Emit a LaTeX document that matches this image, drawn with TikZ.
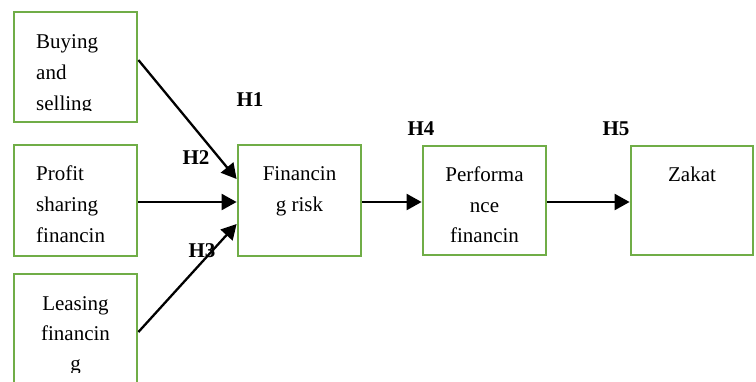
\documentclass[tikz,border=0pt]{standalone}
\usepackage{fontspec}
\setmainfont{Liberation Serif}
\usetikzlibrary{arrows.meta}
\begin{document}
\begin{tikzpicture}[x=1pt,y=-1pt,
  box/.style={draw=boxgreen,line width=2.8pt,minimum width=123pt,inner sep=0pt,fill=white,outer sep=1.4pt},
  txt/.style={inner sep=0pt,font=\fontsize{21}{31}\selectfont},
  hlab/.style={inner sep=0pt,anchor=base,font=\fontsize{21}{31}\selectfont\bfseries},
  arr/.style={line width=2.3pt,-{Triangle[length=15pt,width=16pt]}}]
\definecolor{boxgreen}{HTML}{70AD47}
\useasboundingbox (0,0) rectangle (756,381);
\begin{scope}
\clip (0,0) rectangle (756,381);
\node[box,minimum height=110pt] (b1) at (75.5,67) {};
\node[box,minimum height=111pt] (b2) at (75.5,200.5) {};
\node[box,minimum height=146pt] (b3) at (75.5,347) {};
\node[box,minimum height=111pt] (fr) at (299.5,200.5) {};
\node[box,minimum height=109pt] (pf) at (484.5,200.5) {};
\node[box,minimum width=122pt,minimum height=109pt] (zk) at (692,200.5) {};
\end{scope}
% texts
\begin{scope}
\clip (15,13) rectangle (136,110.5);
\node[txt,anchor=base west] (t1a) at (36,48) {Buying};
\node[txt,anchor=base west] (t1b) at (36,79) {and};
\node[txt,anchor=base west] (t1c) at (36,110) {selling};
\end{scope}
\node[txt,anchor=base west] (t2a) at (36,180) {Profit};
\node[txt,anchor=base west] (t2b) at (36,211) {sharing};
\node[txt,anchor=base west] (t2c) at (36,242) {financin};
\begin{scope}
\clip (15,275) rectangle (136,372.5);
\node[txt,anchor=base] (t3a) at (75.5,310) {Leasing};
\node[txt,anchor=base] (t3b) at (75.5,340) {financin};
\node[txt,anchor=base] (t3c) at (75.5,370) {g};
\end{scope}
\node[txt,anchor=base] (t4a) at (299.5,180) {Financin};
\node[txt,anchor=base] (t4b) at (299.5,211) {g risk};
\node[txt,anchor=base] (t5a) at (484.5,181) {Performa};
\node[txt,anchor=base] (t5b) at (484.5,212) {nce};
\node[txt,anchor=base] (t5c) at (484.5,242) {financin};
\node[txt,anchor=base] (t6a) at (692,181) {Zakat};
% arrows
\draw[arr] ([yshift=7pt]b1.east) -- ([yshift=21.5pt]fr.west);
\draw[arr] ([yshift=-1.5pt]b2.east) -- ([yshift=-1.5pt]fr.west);
\draw[arr] ([yshift=15pt]b3.east) -- ([yshift=-23.5pt]fr.west);
\draw[arr] ([yshift=-1.5pt]fr.east) -- ([yshift=-1.5pt]pf.west);
\draw[arr] ([yshift=-1.5pt]pf.east) -- ([yshift=-1.5pt]zk.west);
% labels
\node[hlab] (h1) at (250,106) {H1};
\node[hlab] (h2) at (196,164) {H2};
\node[hlab] (h3) at (202,257) {H3};
\node[hlab] (h4) at (421,135) {H4};
\node[hlab] (h5) at (616,135) {H5};
\end{tikzpicture}
\end{document}
